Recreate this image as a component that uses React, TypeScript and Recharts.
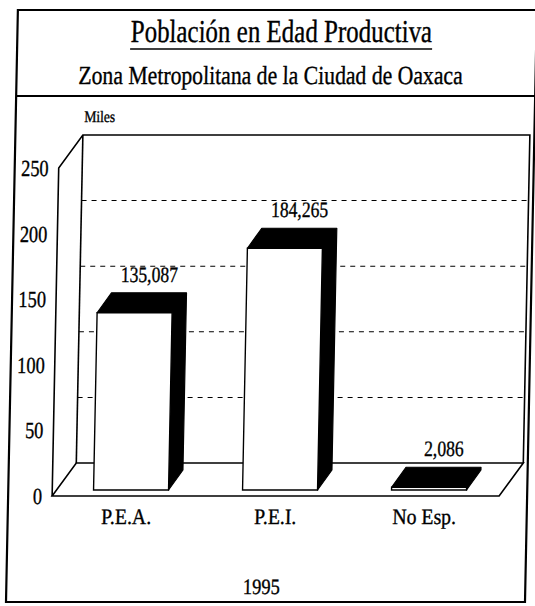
import React from 'react';
import { BarChart, Bar, XAxis, YAxis, CartesianGrid, LabelList } from 'recharts';

const categorias = ['P.E.A.', 'P.E.I.', 'No Esp.'];
const poblacion = [135087, 184265, 2086];
const ticksY = [0, 50, 100, 150, 200, 250];

const data = categorias.map((name, i) => ({ name, value: poblacion[i] }));

const W = 535;
const H = 606;
const PLOT_TOP = 168;
const PLOT_BOTTOM = 496;
// back wall offset of the 3d box
const WALL_DX = 23.5;
const WALL_DY = -33;
// bars stand a little behind the front edge of the floor
const BAR_FDX = 4.3;
const BAR_FDY = -6;
const BAR_DX = 14;
const BAR_DY = -20;
const FONT = '"Liberation Serif", "Times New Roman", serif';
// the scanned lettering is narrower than Times
const NARROW = 0.8;

const gridLine = (p: any) => {
  const { x1, x2, y1 } = p;
  const top = p.y ?? PLOT_TOP;
  const bottom = top + (p.height ?? PLOT_BOTTOM - PLOT_TOP);
  if (Math.abs(y1 - top) < 0.5) return <g key={p.key} />;
  if (Math.abs(y1 - bottom) < 0.5) {
    return (
      <g key={p.key} fill="none" stroke="#000" strokeWidth={1.6}>
        <polygon
          points={`${x1},${y1} ${x2},${y1} ${x2 + WALL_DX},${y1 + WALL_DY} ${x1 + WALL_DX},${y1 + WALL_DY}`}
          fill="#fff"
        />
        <polyline
          points={`${x1},${y1} ${x1},${top} ${x1 + WALL_DX},${top + WALL_DY} ${x2 + WALL_DX},${top + WALL_DY} ${x2 + WALL_DX},${y1 + WALL_DY}`}
        />
        <line x1={x1 + WALL_DX} y1={y1 + WALL_DY} x2={x1 + WALL_DX} y2={top + WALL_DY} />
      </g>
    );
  }
  return (
    <line
      key={p.key}
      x1={x1 + WALL_DX}
      y1={y1 + WALL_DY}
      x2={x2 + WALL_DX}
      y2={y1 + WALL_DY}
      stroke="#000"
      strokeWidth={1}
      strokeDasharray="5 5"
    />
  );
};

const Bar3D = (p: any) => {
  const { x, y, width, height } = p;
  const fx = x + BAR_FDX;
  const fy = y + BAR_FDY;
  const right = fx + width;
  const bottom = fy + height;
  return (
    <g>
      <polygon
        points={`${fx},${fy} ${fx + BAR_DX},${fy + BAR_DY} ${right + BAR_DX},${fy + BAR_DY} ${right + BAR_DX},${bottom + BAR_DY} ${right},${bottom} ${right},${fy}`}
        fill="#000"
        stroke="#000"
        strokeWidth={1.2}
        strokeLinejoin="round"
      />
      <rect x={fx} y={fy} width={width} height={height} fill="#fff" stroke="#000" strokeWidth={1.4} />
    </g>
  );
};

// narrow text, drawn at (x, y) baseline
const Narrow = ({ x, y, size, anchor = 'middle', scale = NARROW, children }: any) => (
  <text
    transform={`translate(${x},${y}) scale(${scale},1)`}
    textAnchor={anchor}
    fontFamily={FONT}
    fontSize={size}
    fill="#000"
    stroke="#000"
    strokeWidth={0.35}
  >
    {children}
  </text>
);

const ValueLabel = (p: any) => {
  const { x, y, width, value } = p;
  const cx = x + BAR_FDX + BAR_DX + width / 2;
  const by = y + BAR_FDY + BAR_DY - 11;
  return (
    <Narrow x={cx} y={by} size={22}>
      {Number(value).toLocaleString('en-US')}
    </Narrow>
  );
};

const YTick = (p: any) => (
  <Narrow x={p.x} y={p.y + 8} size={23} anchor="end">
    {p.payload.value}
  </Narrow>
);

const XTick = (p: any) => (
  <Narrow x={p.x} y={p.y + 18} size={22} scale={0.9}>
    {p.payload.value}
  </Narrow>
);

export default function App() {
  return (
    <div
      style={{
        position: 'absolute',
        left: 0,
        top: 0,
        width: W,
        height: H,
        background: '#fff',
        transform: 'skewX(-1.15deg)',
      }}
    >
      <svg width={W} height={H} style={{ position: 'absolute', left: 0, top: 0 }}>
        <g fill="none" stroke="#000">
          <rect x={12} y={10} width={519} height={592} strokeWidth={2.2} />
          <line x1={12} y1={96} x2={531} y2={96} strokeWidth={2} />
          <line x1={125} y1={49} x2={427} y2={49} strokeWidth={1.6} />
        </g>
        <Narrow x={276} y={42} size={32} scale={0.78}>Población en Edad Productiva</Narrow>
        <Narrow x={266} y={84} size={26} scale={0.835}>Zona Metropolitana de la Ciudad de Oaxaca</Narrow>
        <Narrow x={96} y={122} size={16} scale={0.85}>Miles</Narrow>
        <Narrow x={267} y={594} size={22} scale={0.84}>1995</Narrow>
      </svg>
      <div style={{ position: 'absolute', left: 0, top: 0 }}>
        <BarChart
          width={W}
          height={H}
          data={data}
          margin={{ top: PLOT_TOP, right: 32, bottom: H - PLOT_BOTTOM - 30, left: 0 }}
        >
          <CartesianGrid vertical={false} horizontal={gridLine} />
          <XAxis
            dataKey="name"
            axisLine={false}
            tickLine={false}
            tickSize={0}
            tickMargin={10}
            height={30}
            interval={0}
            tick={<XTick />}
          />
          <YAxis
            domain={[0, 250]}
            ticks={ticksY}
            interval={0}
            axisLine={false}
            tickLine={false}
            tickSize={0}
            tickMargin={10}
            width={56}
            tick={<YTick />}
          />
          <Bar
            dataKey={(d: any) => d.value / 1000}
            barSize={75}
            shape={<Bar3D />}
            isAnimationActive={false}
          >
            <LabelList dataKey="value" content={<ValueLabel />} />
          </Bar>
        </BarChart>
      </div>
    </div>
  );
}
